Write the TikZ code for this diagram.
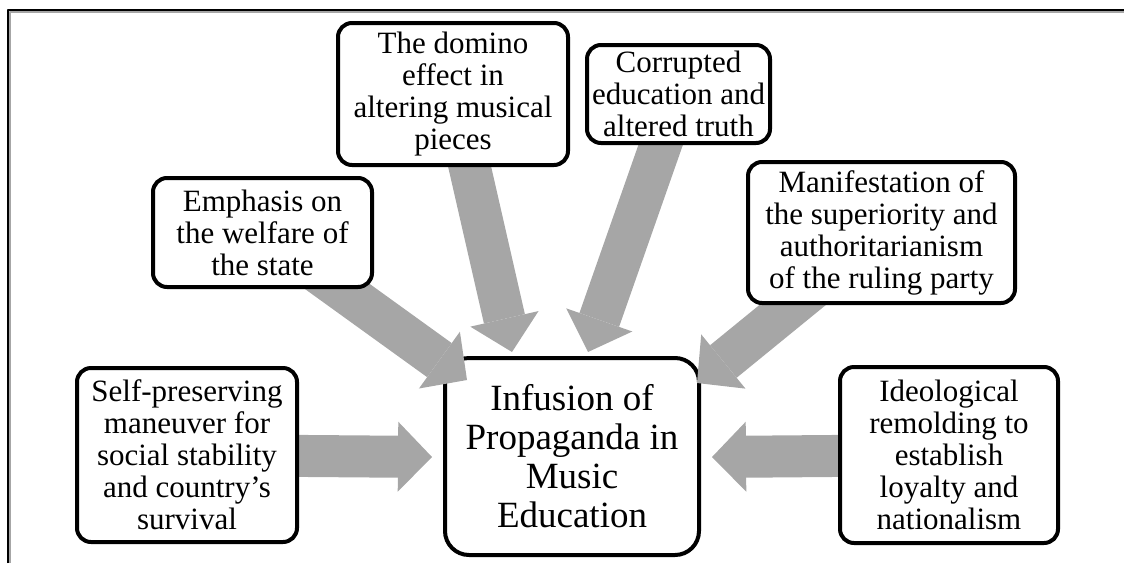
\documentclass[tikz,border=0pt]{standalone}
\usepackage{fontspec}
\setmainfont{Liberation Serif}
\usetikzlibrary{arrows.meta}
\definecolor{arrowgray}{RGB}{166,166,166}
\pgfdeclarelayer{bg}
\pgfdeclarelayer{mid}
\pgfsetlayers{bg,mid,main}

\begin{document}
\begin{tikzpicture}[x=0.5pt, y=-0.5pt, line join=round,
	box/.style={draw, line width=2pt, rounded corners=7pt, fill=white, align=center, inner sep=0pt,
		font=\fontsize{15.5}{16}\selectfont},
	hub/.style={box, rounded corners=12pt, font=\fontsize{18.5}{19.5}\selectfont},
	fat/.style={draw=arrowgray, line width=21pt, line join=miter,
		-{Triangle[line width=0pt, length=17pt, width=35pt]}}]
	\useasboundingbox (0,0) rectangle (1124,563);
	% frame
	\draw[arrowgray, line width=1pt] (9.5,563) -- (9.5,11.5) -- (1124,11.5);
	\draw[line width=1pt] (8,563) -- (8,9.5) -- (1124,9.5);
	\begin{pgfonlayer}{bg}
		\node[hub, minimum width=127pt, minimum height=98.5pt] (hub) at (572,456.5)
			{Infusion of\\Propaganda in\\Music\\Education};
	\end{pgfonlayer}
	\node[box, minimum width=109.5pt, minimum height=54.5pt] (welfare) at (262.5,232.5)
		{Emphasis on\\the welfare of\\the state};
	\node[box, minimum width=115pt, minimum height=71pt] (domino) at (453,94)
		{The domino\\effect in\\altering musical\\pieces};
	\node[box, minimum width=91.5pt, minimum height=49pt] (truth) at (678.5,94)
		{Corrupted\\education and\\altered truth};
	\node[box, minimum width=133.5pt, minimum height=70.5pt] (party) at (881.5,232.5)
		{Manifestation of\\the superiority and\\authoritarianism\\of the ruling party};
	\node[box, minimum width=110pt, minimum height=87pt] (survival) at (187,455)
		{Self-preserving\\maneuver for\\social stability\\and country’s\\survival};
	\node[box, minimum width=109pt, minimum height=88pt] (loyalty) at (949,455)
		{Ideological\\remolding to\\establish\\loyalty and\\nationalism};
	% arrow tips
	\coordinate (t1) at (467,380);
	\coordinate (t2) at (512,352);
	\coordinate (t3) at (588,352);
	\coordinate (t4) at (697,383);
	\coordinate (t5) at (432,457);
	\coordinate (t6) at (712,457);
	\begin{pgfonlayer}{mid}
		\draw[fat] (welfare.center) -- (t1);
		\draw[fat] (domino.center) -- (t2);
		\draw[fat] (truth.center) -- (t3);
		\draw[fat] (party.center) -- (t4);
		\draw[fat] (survival.center) -- (t5);
		\draw[fat] (loyalty.center) -- (t6);
	\end{pgfonlayer}
\end{tikzpicture}
\end{document}
